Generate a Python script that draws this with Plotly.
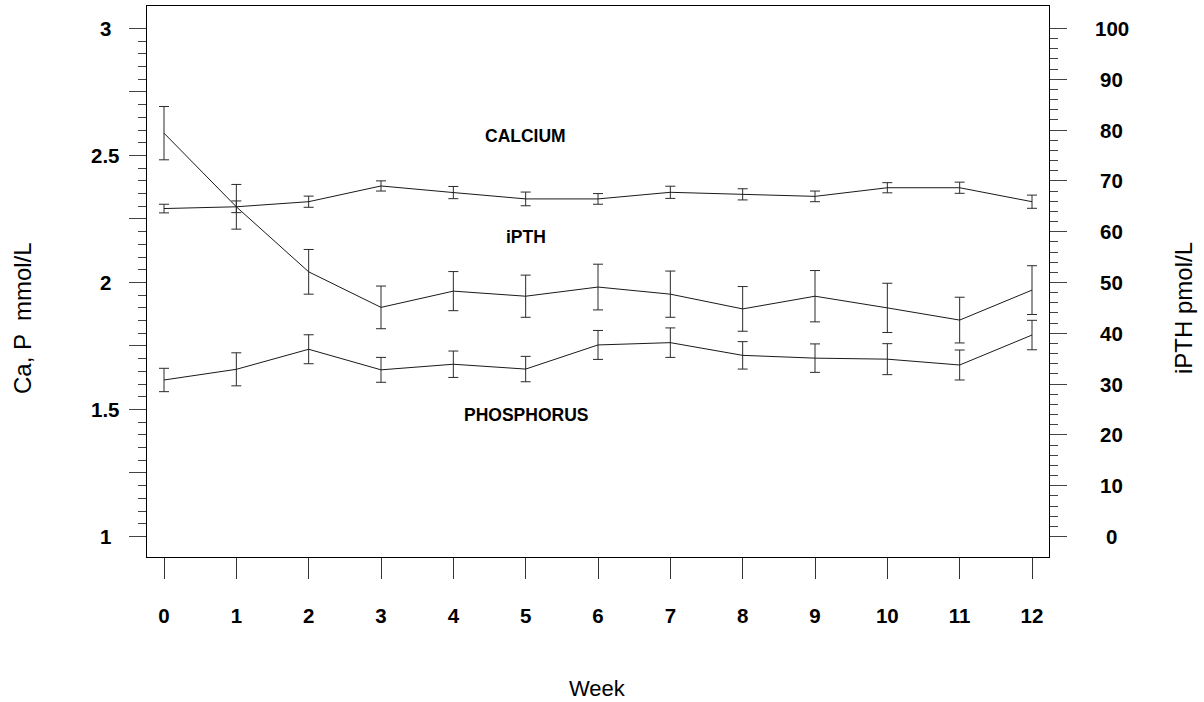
import plotly.graph_objects as go

# ---- data ----
weeks = list(range(13))
week_tick_text = [str(w) for w in weeks]

calcium = [2.291, 2.298, 2.318, 2.380, 2.354, 2.329, 2.329, 2.355, 2.347, 2.339, 2.373, 2.373, 2.318]
calcium_se = [0.017, 0.023, 0.022, 0.020, 0.024, 0.027, 0.021, 0.024, 0.022, 0.021, 0.020, 0.022, 0.026]

phosphorus = [1.616, 1.658, 1.737, 1.656, 1.678, 1.659, 1.754, 1.763, 1.713, 1.702, 1.698, 1.675, 1.793]
phosphorus_se = [0.046, 0.065, 0.057, 0.049, 0.052, 0.050, 0.057, 0.058, 0.054, 0.056, 0.061, 0.059, 0.058]

ipth = [79.4, 64.9, 52.1, 45.1, 48.3, 47.3, 49.1, 47.7, 44.8, 47.3, 45.0, 42.6, 48.5]
ipth_se = [5.25, 4.4, 4.4, 4.2, 3.85, 4.15, 4.5, 4.55, 4.4, 5.05, 4.85, 4.5, 4.8]

left_tick_vals = [1, 1.5, 2, 2.5, 3]
left_tick_text = ["1", "1.5", "2", "2.5", "3"]
right_tick_vals = [0, 10, 20, 30, 40, 50, 60, 70, 80, 90, 100]
right_tick_text = ["0", "10", "20", "30", "40", "50", "60", "70", "80", "90", "100"]

series_labels = ["CALCIUM", "iPTH", "PHOSPHORUS"]
series_label_week = [5, 5, 5]
series_label_level = [2.577, 2.18, 1.478]

# ---- styling ----
LINE = "#1a1a1a"
BAR = "#2a2a2a"
TICK_FONT = dict(family="Liberation Sans, Arial", size=20.5, color="black", weight="bold")
YTITLE_FONT = dict(family="Liberation Sans, Arial", size=24, color="black")
XTITLE_FONT = dict(family="Liberation Sans, Arial", size=22, color="black")
LABEL_FONT = dict(family="Liberation Sans, Arial", size=17.5, color="black", weight="bold")

fig = go.Figure()

fig.add_trace(go.Scatter(
    x=weeks, y=calcium, mode="lines", name="Calcium",
    line=dict(color=LINE, width=1),
    error_y=dict(type="data", array=calcium_se, visible=True, color=BAR, thickness=1, width=5),
))
fig.add_trace(go.Scatter(
    x=weeks, y=phosphorus, mode="lines", name="Phosphorus",
    line=dict(color=LINE, width=1),
    error_y=dict(type="data", array=phosphorus_se, visible=True, color=BAR, thickness=1, width=5),
))
fig.add_trace(go.Scatter(
    x=weeks, y=ipth, mode="lines", name="iPTH", yaxis="y2",
    line=dict(color=LINE, width=1),
    error_y=dict(type="data", array=ipth_se, visible=True, color=BAR, thickness=1, width=5),
))

left_major = [1 + 0.25 * i for i in range(9)]
left_minor = [round(1 + 0.05 * i, 2) for i in range(41)]
right_major = [10 * i for i in range(11)]
right_minor = [2 * i for i in range(51)]

fig.update_layout(
    width=1204, height=702,
    margin=dict(l=147, r=155, t=6, b=145),
    paper_bgcolor="white", plot_bgcolor="white",
    showlegend=False,
    xaxis=dict(
        range=[-0.235, 12.235],
        tickmode="array", tickvals=weeks, ticktext=week_tick_text,
        ticks="outside", ticklen=21, tickwidth=1, tickcolor="#333",
        showline=True, linecolor="black", linewidth=1, mirror=True,
        showgrid=False, zeroline=False,
        tickfont=TICK_FONT, ticklabelstandoff=19,
    ),
    yaxis=dict(
        range=[0.919, 3.0886],
        tickmode="array", tickvals=left_major, showticklabels=False,
        ticks="outside", ticklen=17, tickwidth=1, tickcolor="#444",
        minor=dict(tickmode="array", tickvals=left_minor, ticks="outside", ticklen=8, tickwidth=1, tickcolor="#444"),
        showline=True, linecolor="black", linewidth=1,
        showgrid=False, zeroline=False,
    ),
    yaxis2=dict(
        range=[-4.04, 104.43], overlaying="y", side="right",
        tickmode="array", tickvals=right_major, showticklabels=False,
        ticks="outside", ticklen=17, tickwidth=1, tickcolor="#444",
        minor=dict(tickmode="array", tickvals=right_minor, ticks="outside", ticklen=8, tickwidth=1, tickcolor="#444"),
        showline=True, linecolor="black", linewidth=1,
        showgrid=False, zeroline=False,
    ),
)

annotations = []
for v, t in zip(left_tick_vals, left_tick_text):
    annotations.append(dict(x=-0.0455, xref="paper", y=v, yref="y", text=t, showarrow=False,
                            xanchor="center", yanchor="middle", font=TICK_FONT))
for v, t in zip(right_tick_vals, right_tick_text):
    annotations.append(dict(x=1.0698, xref="paper", y=v, yref="y2", text=t, showarrow=False,
                            xanchor="center", yanchor="middle", font=TICK_FONT))
for t, wx, lv in zip(series_labels, series_label_week, series_label_level):
    annotations.append(dict(x=wx, xref="x", y=lv, yref="y", text=t, showarrow=False,
                            xanchor="center", yanchor="middle", font=LABEL_FONT))

# axis titles
annotations.append(dict(x=(22 - 147) / 902, xref="paper", y=(557 - 318) / 551, yref="paper",
                        text="Ca, P  mmol/L", showarrow=False, textangle=-90, font=YTITLE_FONT,
                        xanchor="center", yanchor="middle"))
annotations.append(dict(x=(1183 - 147) / 902, xref="paper", y=(557 - 308) / 551, yref="paper",
                        text="iPTH pmol/L", showarrow=False, textangle=-90, font=YTITLE_FONT,
                        xanchor="center", yanchor="middle"))
annotations.append(dict(x=(597 - 147) / 902, xref="paper", y=(557 - 688) / 551, yref="paper",
                        text="Week", showarrow=False, font=XTITLE_FONT,
                        xanchor="center", yanchor="middle"))

fig.update_layout(annotations=annotations)

fig.write_html(
    "out.html",
    config={"displayModeBar": False},
    post_script="document.body.style.margin='0px';document.body.style.padding='0px';",
)
